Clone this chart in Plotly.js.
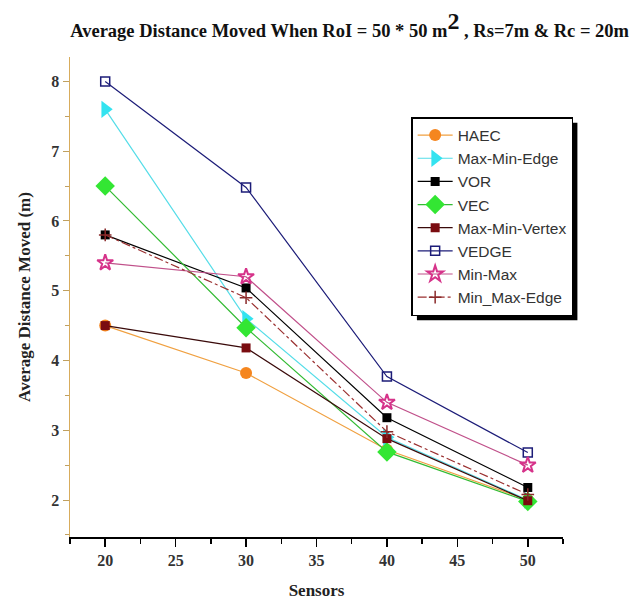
<!DOCTYPE html>
<html>
<head>
<meta charset="utf-8">
<script src="https://cdn.plot.ly/plotly-3.0.1.min.js"></script>
<style>html,body{margin:0;padding:0;background:#fff;}#chart{width:638px;height:603px;}</style>
</head>
<body>
<div id="chart"></div>
<script>
const sensors = [20, 30, 40, 50];
const haec = [4.5, 3.82, 2.72, 2.0];
const maxMinEdge = [7.6, 4.6, 2.9, 2.0];
const vor = [5.8, 5.04, 3.18, 2.18];
const vec = [6.5, 4.47, 2.69, 1.98];
const maxMinVertex = [4.5, 4.18, 2.88, 1.99];
const vedge = [8.0, 6.48, 3.77, 2.68];
const minMax = [5.4, 5.2, 3.4, 2.5];
const minMaxEdge = [5.8, 4.9, 2.98, 2.08];

const xTicks = [20, 25, 30, 35, 40, 45, 50];
const yTicks = [2, 3, 4, 5, 6, 7, 8];

function tr(name, y, color, lineColor, symbol, size, dash, mline) {
  return {
    x: sensors, y: y, name: name, type: 'scatter', mode: 'lines+markers',
    line: {color: lineColor, width: 1.2, dash: dash || 'solid'},
    marker: {color: color, symbol: symbol, size: size, line: mline || {width: 0}}
  };
}

const data = [
  tr('HAEC', haec, '#f5861f', '#f0a040', 'circle', 12),
  tr('Max-Min-Edge', maxMinEdge, '#33e3f0', '#55dde8', 'triangle-right', 15),
  tr('VOR', vor, '#000000', '#000000', 'square', 9),
  tr('VEC', vec, '#33e633', '#33bb33', 'diamond', 15),
  tr('Max-Min-Vertex', maxMinVertex, '#7a0c10', '#3a0a0a', 'square', 9),
  tr('VEDGE', vedge, '#1c1c78', '#1c1c78', 'square-open', 9, 'solid', {color: '#1c1c78', width: 1.5}),
  tr('Min-Max', minMax, '#d6338a', '#c0508a', 'star-open', 12, 'solid', {color: '#d6338a', width: 2}),
  tr('Min_Max-Edge', minMaxEdge, '#8a2a2a', '#9a3030', 'cross-thin-open', 9, 'dashdot', {color: '#8a2a2a', width: 1.5})
];

const serif = '"Liberation Serif", "Times New Roman", serif';

const layout = {
  width: 638, height: 603,
  paper_bgcolor: '#ffffff', plot_bgcolor: '#ffffff',
  margin: {l: 70, r: 75, t: 57, b: 66},
  showlegend: true,
  title: {
    text: 'Average Distance Moved When RoI = 50 * 50 m<sup><span style="font-size:24px">2</span></sup> , Rs=7m &amp; Rc = 20m',
    font: {family: serif, size: 18.5, color: '#111', weight: 'bold'},
    x: 0.548, xanchor: 'center', y: 0.95, yanchor: 'middle'
  },
  xaxis: {
    range: [17.5, 52.5], tickvals: xTicks, showgrid: false, zeroline: false,
    showline: true, linecolor: '#000', linewidth: 1.5,
    ticks: 'outside', ticklen: 8, tickwidth: 1.5, tickcolor: '#000',
    minor: {dtick: 2.5, tick0: 17.5, ticks: 'outside', ticklen: 5, tickwidth: 1.5, tickcolor: '#000', showgrid: false},
    tickfont: {family: serif, size: 16, color: '#333', weight: 'bold'},
    title: {text: 'Sensors', font: {family: serif, size: 17, color: '#222', weight: 'bold'}, standoff: 16}
  },
  yaxis: {
    range: [1.47, 8.35], tickvals: yTicks, showgrid: false, zeroline: false,
    showline: true, linecolor: '#d8ac5c', linewidth: 1.5,
    ticks: 'outside', ticklen: 6, tickwidth: 1, tickcolor: '#c0a060',
    minor: {dtick: 0.5, ticks: 'outside', ticklen: 4, tickwidth: 1, tickcolor: '#c0a060', showgrid: false},
    tickfont: {family: serif, size: 16, color: '#333', weight: 'bold'},
    title: {text: 'Average Distance Moved (m)', font: {family: serif, size: 17, color: '#222', weight: 'bold'}, standoff: 16}
  },
  legend: {
    x: 0.692, y: 0.875, xanchor: 'left', yanchor: 'top',
    bgcolor: '#ffffff', bordercolor: '#000', borderwidth: 1.5,
    font: {family: '"Liberation Sans", Arial, sans-serif', size: 15.5, color: '#333'},
    tracegroupgap: 0, itemwidth: 35, entrywidth: 186
  }
};

Plotly.newPlot('chart', data, layout, {displayModeBar: false, staticPlot: true}).then(function (gd) {
  const bg = gd.querySelector('.legend .bg');
  if (!bg) return;
  const r = bg.getBoundingClientRect();
  const c = gd.getBoundingClientRect();
  const fl = gd._fullLayout;
  const L = fl.margin.l, T = fl.margin.t;
  const W = fl.width - fl.margin.l - fl.margin.r;
  const H = fl.height - fl.margin.t - fl.margin.b;
  const off = 5;
  const left = r.left - c.left + off, right = r.right - c.left + off;
  const top = r.top - c.top + off, bottom = r.bottom - c.top + off;
  return Plotly.relayout(gd, {shapes: [{
    type: 'rect', xref: 'paper', yref: 'paper', layer: 'above',
    x0: (left - L) / W, x1: (right - L) / W,
    y0: 1 - (bottom - T) / H, y1: 1 - (top - T) / H,
    fillcolor: '#000', line: {width: 0}
  }]});
});
</script>
</body>
</html>
